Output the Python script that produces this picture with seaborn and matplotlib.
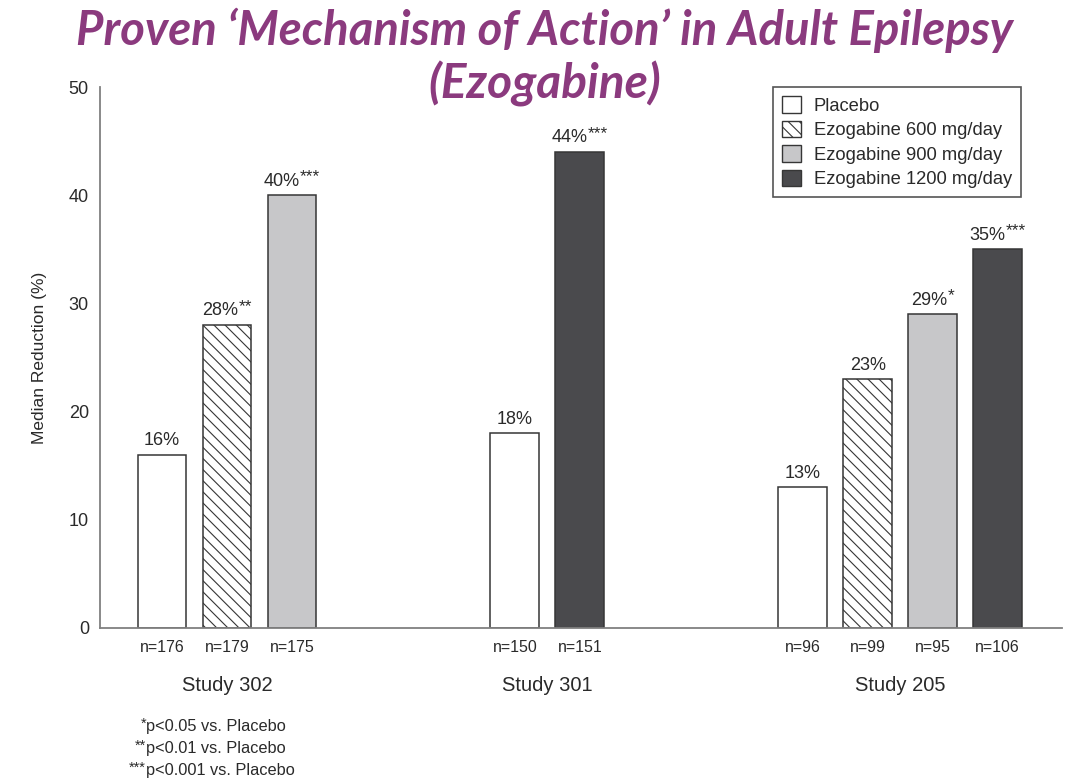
import numpy as np
import pandas as pd
import matplotlib
matplotlib.use("Agg")
import matplotlib.pyplot as plt
import seaborn as sns
from matplotlib.patches import Patch

# ---------------- data ----------------
study_names = ["Study 302", "Study 301", "Study 205"]
bar_study = ["Study 302", "Study 302", "Study 302",
             "Study 301", "Study 301",
             "Study 205", "Study 205", "Study 205", "Study 205"]
bar_treatment = ["Placebo", "Ezogabine 600 mg/day", "Ezogabine 900 mg/day",
                 "Placebo", "Ezogabine 1200 mg/day",
                 "Placebo", "Ezogabine 600 mg/day", "Ezogabine 900 mg/day",
                 "Ezogabine 1200 mg/day"]
bar_value = [16, 28, 40, 18, 44, 13, 23, 29, 35]
bar_n = [176, 179, 175, 150, 151, 96, 99, 95, 106]
bar_sig = ["", "**", "***", "", "***", "", "", "*", "***"]
treatments = ["Placebo", "Ezogabine 600 mg/day", "Ezogabine 900 mg/day",
              "Ezogabine 1200 mg/day"]
footnote_stars = ["*", "**", "***"]
footnote_texts = ["p<0.05 vs. Placebo", "p<0.01 vs. Placebo", "p<0.001 vs. Placebo"]
title_lines = ["Proven \u2018Mechanism of Action\u2019 in Adult Epilepsy", "(Ezogabine)"]
y_label = "Median Reduction (%)"

# ---------------- style ----------------
colors = {"Placebo": "#ffffff", "Ezogabine 600 mg/day": "#ffffff",
          "Ezogabine 900 mg/day": "#c7c7c9", "Ezogabine 1200 mg/day": "#4a4a4d"}
hatched = "Ezogabine 600 mg/day"
HATCH = "\\\\\\"
edge = "#363636"
txt = "#2a2a2a"
GROUP_GAP = 3.43

sns.set_theme(style="white")
plt.rcParams["font.family"] = ["Liberation Sans", "DejaVu Sans"]
plt.rcParams["hatch.linewidth"] = 0.8

# positions
pos = []
cur = 0.0
for i, s in enumerate(bar_study):
    if i == 0:
        cur = 0.0
    elif s != bar_study[i - 1]:
        cur += GROUP_GAP
    else:
        cur += 1.0
    pos.append(cur)

df = pd.DataFrame({"study": bar_study, "treatment": bar_treatment,
                   "value": bar_value, "n": bar_n, "sig": bar_sig, "pos": pos})

fig = plt.figure(figsize=(10.71, 7.83), dpi=100)
ax = fig.add_axes([100 / 1071, 1 - 628 / 783, 962 / 1071, 541 / 783])

sns.barplot(data=df, x="pos", y="value", hue="treatment", hue_order=treatments,
            palette=colors, native_scale=True, dodge=False, width=0.75,
            saturation=1, edgecolor=edge, linewidth=1.1, legend=False, ax=ax)

for p in ax.patches:
    cx = p.get_x() + p.get_width() / 2
    idx = int(np.argmin(np.abs(df["pos"].values - cx)))
    if df["treatment"].iloc[idx] == hatched:
        p.set_hatch(HATCH)

ax.set_xlim(-0.954, 13.85)
ax.set_ylim(0, 50)
ax.set_yticks([0, 10, 20, 30, 40, 50])
ax.tick_params(axis="y", direction="in", length=7, width=1, color="#777777",
               labelsize=13, labelcolor=txt, pad=8)
ax.set_xticks(df["pos"], [f"n={n}" for n in df["n"]])
ax.tick_params(axis="x", length=0, pad=9, labelsize=11.5, labelcolor=txt)
ax.set_xlabel("")
ax.set_ylabel(y_label, fontsize=12.5, color=txt, labelpad=16)

for sp in ["top", "right"]:
    ax.spines[sp].set_visible(False)
for sp in ["left", "bottom"]:
    ax.spines[sp].set_color("#808080")
    ax.spines[sp].set_linewidth(1.3)

# study labels
for s in study_names:
    cx = df.loc[df["study"] == s, "pos"].mean()
    ax.text(cx, -0.107, s, transform=ax.get_xaxis_transform(), ha="center",
            va="center", fontsize=14.5, color=txt)

# value labels with superscript stars
pairs = []
for _, r in df.iterrows():
    t1 = ax.annotate(f"{r['value']}%", (r["pos"], r["value"]), xytext=(0, 4),
                     textcoords="offset points", ha="left", va="bottom",
                     fontsize=13, color=txt)
    t2 = ax.annotate(r["sig"], (r["pos"], r["value"]), xytext=(0, 4),
                     textcoords="offset points", ha="left", va="bottom",
                     fontsize=12.5, color=txt)
    pairs.append((t1, t2, r["sig"]))

# legend
handles = []
for t in treatments:
    handles.append(Patch(facecolor=colors[t], edgecolor=edge, linewidth=1.0,
                         hatch=HATCH if t == hatched else None, label=t))
leg = ax.legend(handles=handles, loc="upper left", bbox_to_anchor=(0.6996, 1.0),
                fontsize=13.2, frameon=True, fancybox=False, framealpha=1,
                edgecolor="#555555", handlelength=1.0, handleheight=1.0,
                handletextpad=0.71, labelspacing=0.33, borderpad=0.5,
                borderaxespad=0)
leg.get_frame().set_linewidth(1.2)
for t in leg.get_texts():
    t.set_color(txt)

# titles
fig.text(545 / 1071, 1 - 30 / 783, title_lines[0], ha="center", va="center",
         fontsize=34, fontweight="bold", fontstyle="italic", color="#8b3a7e",
         family=["Lato", "DejaVu Sans"])
fig.text(545 / 1071, 1 - 84 / 783, title_lines[1], ha="center", va="center",
         fontsize=34.5, fontweight="bold", fontstyle="italic", color="#8b3a7e",
         family=["Lato", "DejaVu Sans"])

# footnotes
for i, (st, ft) in enumerate(zip(footnote_stars, footnote_texts)):
    yy = 1 - (727 + i * 22) / 783
    fig.text(146 / 1071, yy + 3 / 783, st, ha="right", va="center", fontsize=10.5,
             color=txt)
    fig.text(146 / 1071, yy, ft, ha="left", va="center", fontsize=11.8, color=txt)

# position value labels (measure)
fig.canvas.draw()
rend = fig.canvas.get_renderer()
for t1, t2, sig in pairs:
    w1 = t1.get_window_extent(rend).width * 72 / fig.dpi
    w2 = t2.get_window_extent(rend).width * 72 / fig.dpi if sig else 0
    total = w1 + w2
    t1.xyann = (-total / 2, 4)
    t2.xyann = (-total / 2 + w1, 8)

fig.savefig("out.png", dpi=100)
